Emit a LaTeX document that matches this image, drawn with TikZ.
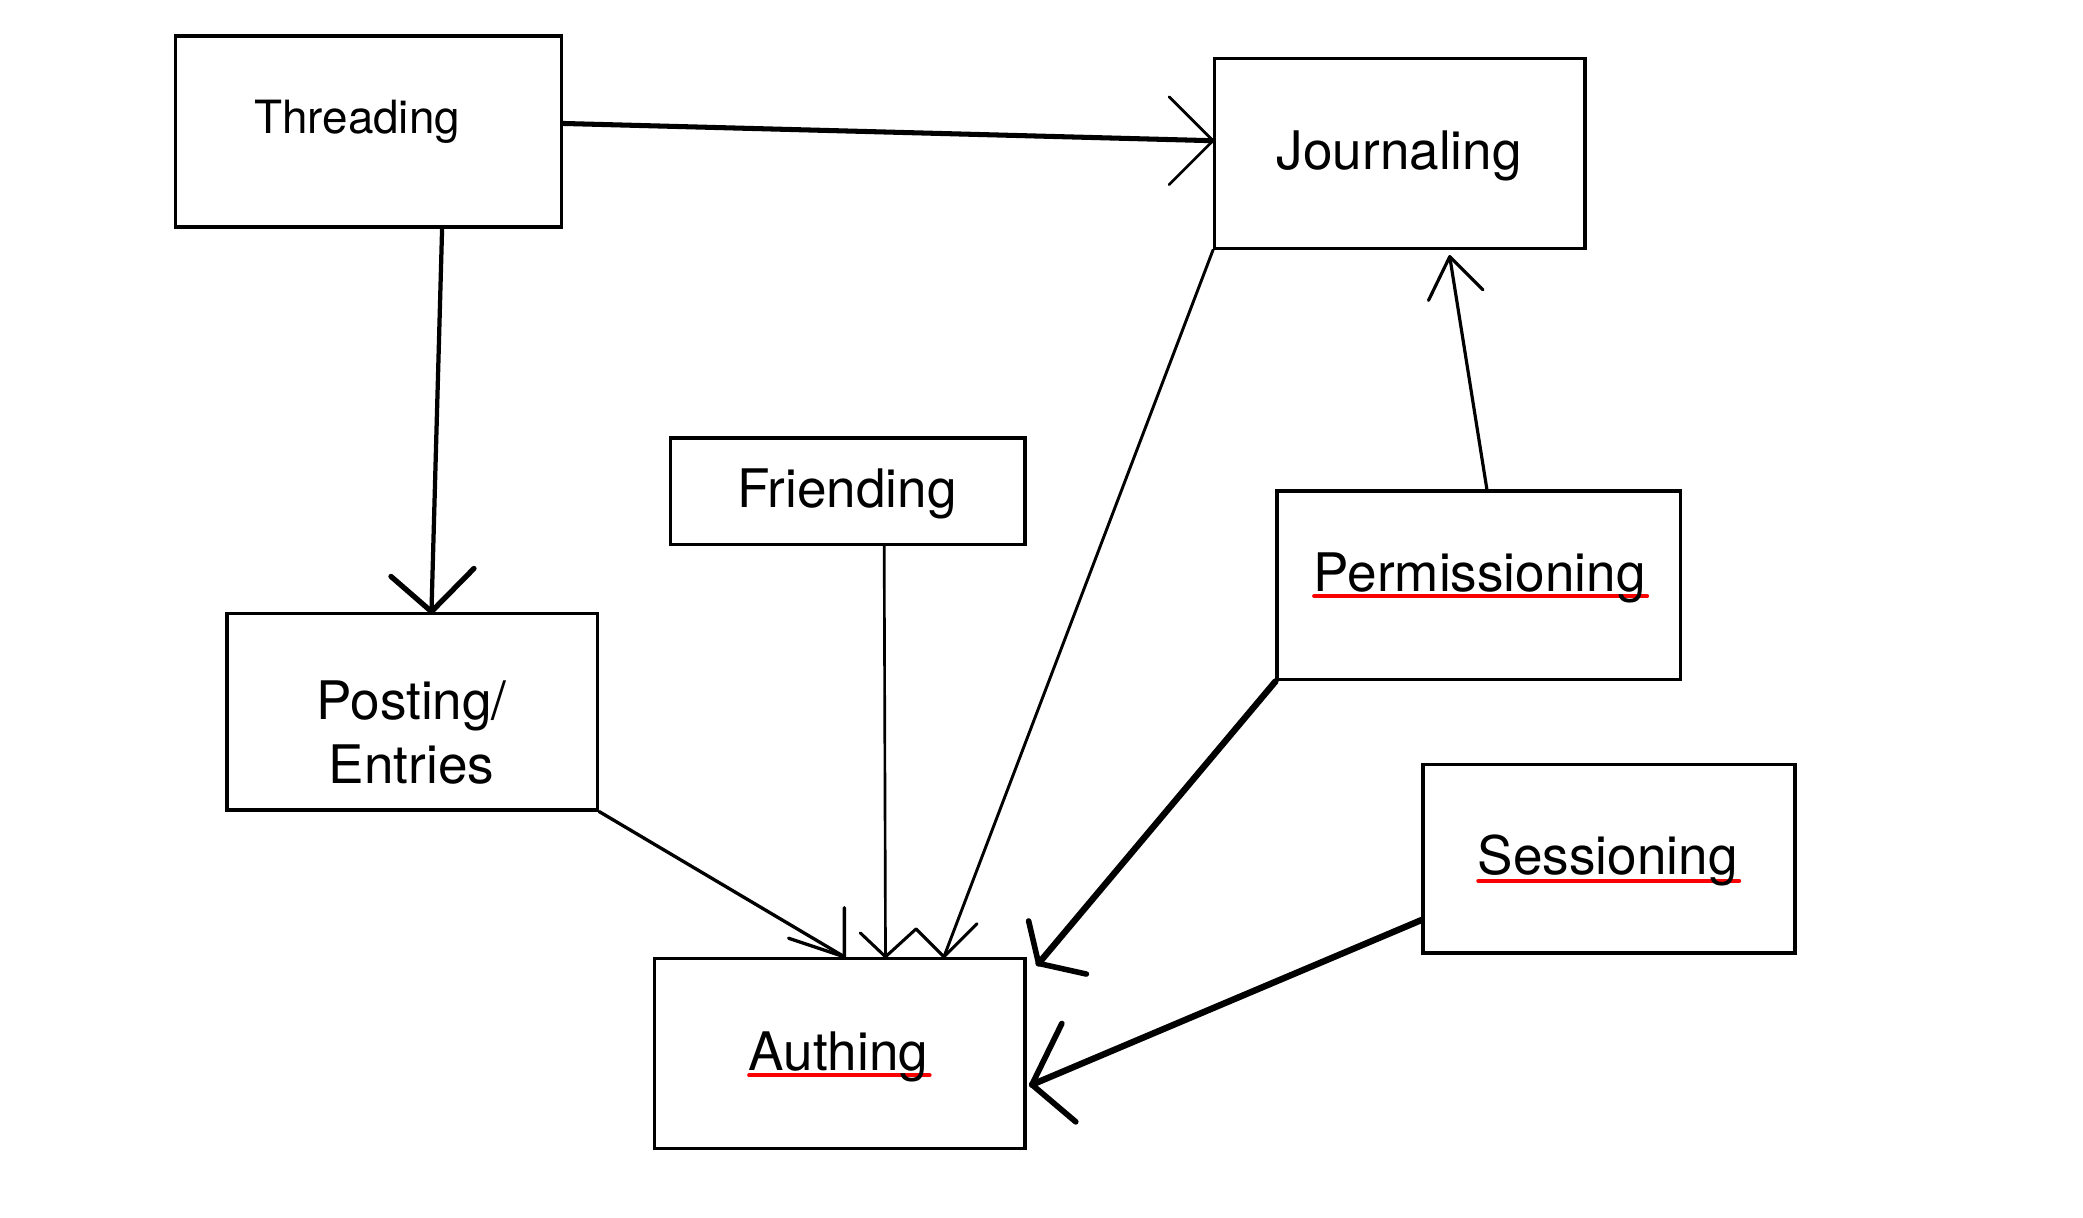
\documentclass[tikz,border=0pt]{standalone}
\usepackage{fontspec}
\setmainfont{TeX Gyre Heros}
\usetikzlibrary{backgrounds}
\definecolor{spellred}{RGB}{250,0,0}
\begin{document}
\begin{tikzpicture}[x=1pt,y=-1pt,
  box/.style={draw,line width=2.6pt,inner sep=0pt,line join=miter},
  lbl/.style={inner sep=0pt,anchor=base,font=\fontsize{40}{48}\selectfont},
  conn/.style={line cap=round,line join=round},
  spell/.style={draw=spellred,line width=3pt,line cap=round}]
\useasboundingbox (0,0) rectangle (1569,916.8);
% boxes
\node[box,minimum width=291pt,minimum height=144pt] (thr) at (277.5,99) {};
\node[box,minimum width=279pt,minimum height=143pt] (jou) at (1054.5,115.5) {};
\node[box,minimum width=267pt,minimum height=80pt] (fri) at (638.5,370) {};
\node[box,minimum width=304pt,minimum height=142pt] (per) at (1114,441) {};
\node[box,minimum width=279pt,minimum height=148pt] (pos) at (310.5,536) {};
\node[box,minimum width=280pt,minimum height=142pt] (ses) at (1212,647) {};
\node[box,minimum width=279pt,minimum height=143pt] (aut) at (632.5,793.5) {};
% labels
\node[lbl,font=\fontsize{34.5}{41}\selectfont] (thrt) at (269,100.5) {Threading};
\node[lbl] (jout) at (1054,128) {Journaling};
\node[lbl] (frit) at (638,382) {Friending};
\node[lbl] (pert) at (1114.5,445.5) {Permissioning};
\node[lbl] (post) at (310,542) {Posting/};
\node[lbl] (entt) at (310,590) {Entries};
\node[lbl] (sest) at (1211,659) {Sessioning};
\node[lbl] (autt) at (631.5,806) {Authing};
% spell-check underlines
\begin{scope}[on background layer]
\fill[white] (0,0) rectangle (1569,916.8);
\draw[spell] ([xshift=0.5pt,yshift=-3.5pt]pert.base west) -- ([xshift=1pt,yshift=-3.5pt]pert.base east);
\draw[spell] ([xshift=0.5pt,yshift=-4.5pt]sest.base west) -- ([xshift=1pt,yshift=-4.5pt]sest.base east);
\draw[spell] ([xshift=0.5pt,yshift=-4pt]autt.base west) -- ([xshift=1pt,yshift=-4pt]autt.base east);
\end{scope}
% arrow tips
\coordinate (t1) at ([yshift=9.5pt]jou.west);
\coordinate (t2) at ([xshift=14.5pt]pos.north);
\coordinate (t3) at ([xshift=78.5pt]aut.north);
\coordinate (t4) at ([xshift=34.5pt]aut.north);
\coordinate (t5) at ([xshift=3.5pt]aut.north);
\coordinate (t6) at ([xshift=9pt,yshift=-5pt]aut.north east);
\coordinate (t7) at ([xshift=4pt,yshift=-23.5pt]aut.east);
\coordinate (t8) at ([xshift=37.5pt,yshift=-5pt]jou.south);
% Threading -> Journaling
\draw[conn,line width=3.8pt] ([yshift=6pt]thr.east) -- (t1);
\draw[conn,line width=2.1pt] (t1) ++(-33,-33) -- (t1) -- ++(-33,33);
% Threading -> Posting
\draw[conn,line width=3.2pt] ([xshift=55.5pt]thr.south) -- (t2);
\draw[conn,line width=4pt] (t2) ++(-30.5,-26.5) -- (t2) -- ++(32,-32.5);
% Journaling -> Authing
\draw[conn,line width=2.2pt] (jou.south west) -- (t3);
\draw[conn,line width=2.3pt] (t3) ++(-21,-21) -- (t3) -- ++(25,-25);
% Friending -> Authing
\draw[conn,line width=2pt] ([xshift=27.5pt]fri.south) -- (t4);
\draw[conn,line width=2.3pt] (t4) ++(-19,-18) -- (t4) -- ++(23,-21);
% Posting -> Authing
\draw[conn,line width=2.5pt] (pos.south east) -- (t5);
\draw[conn,line width=2.5pt] (t5) ++(-42,-14) -- (t5) -- ++(0,-37);
% Permissioning -> Authing
\draw[conn,line width=4.8pt] (per.south west) -- (t6);
\draw[conn,line width=4.2pt] (t6) ++(-7.5,-32) -- (t6) -- ++(36,8);
% Sessioning -> Authing
\draw[conn,line width=4.8pt] ([yshift=-46pt]ses.west) -- (t7);
\draw[conn,line width=4.3pt] (t7) ++(22.5,-46) -- (t7) -- ++(33,28);
% Permissioning -> Journaling
\draw[conn,line width=2.4pt] ([xshift=6pt]per.north) -- (t8);
\draw[conn,line width=2.4pt] (t8) ++(-16,33) -- (t8) -- ++(25,25);
\end{tikzpicture}
\end{document}
